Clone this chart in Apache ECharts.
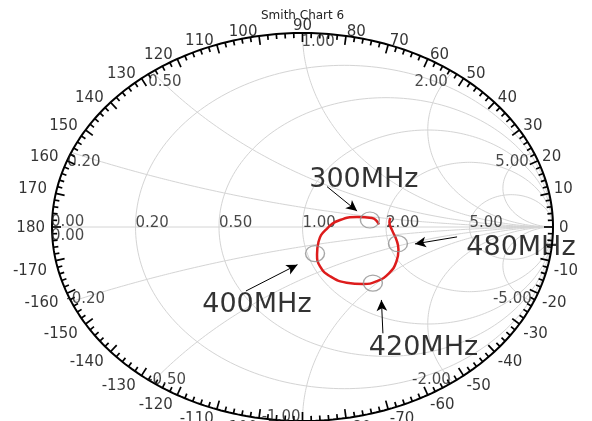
<!DOCTYPE html>
<html><head><meta charset="utf-8">
<script src="https://cdn.jsdelivr.net/npm/echarts@6/dist/echarts.min.js"></script>
<style>html,body{margin:0;padding:0;background:#fff}#c{width:592px;height:421px}</style>
</head><body><div id="c"></div>
<script>
// ---------------- data ----------------
const chartTitle = 'Smith Chart 6';
const traceRe = [0.305, 0.277, 0.218, 0.150, 0.098, 0.064, 0.058, 0.070, 0.110, 0.176, 0.242, 0.297, 0.345, 0.375, 0.383, 0.375, 0.357, 0.347, 0.351];
const traceIm = [0.013, 0.046, 0.051, 0.036, -0.008, -0.076, -0.142, -0.203, -0.254, -0.287, -0.294, -0.279, -0.239, -0.178, -0.117, -0.066, -0.015, 0.025, 0.046];
// frequency markers
const markerNames = ['300MHz', '400MHz', '420MHz', '480MHz'];
const markerRe = [0.269, 0.050, 0.281, 0.381];
const markerIm = [0.036, -0.137, -0.289, -0.086];
// annotation text centres and arrows (in reflection-coefficient plane)
const noteRe = [0.245, -0.182, 0.483, 0.872];
const noteIm = [0.241, -0.404, -0.622, -0.109];
const arrowTailRe = [0.098, -0.226, 0.321, 0.617];
const arrowTailIm = [0.208, -0.330, -0.548, -0.051];
const arrowHeadRe = [0.218, -0.020, 0.315, 0.449];
const arrowHeadIm = [0.082, -0.194, -0.376, -0.087];
// grid values and tick labels
const resistanceValues = [0.2, 0.5, 1, 2, 5];
const resistanceLabels = ['0.20', '0.50', '1.00', '2.00', '5.00'];
const reactanceValues = [0.2, 0.5, 1, 2, 5, -0.2, -0.5, -1, -2, -5];
const reactanceLabels = ['0.20', '0.50', '1.00', '2.00', '5.00', '-0.20', '-0.50', '-1.00', '-2.00', '-5.00'];
const angleLabels = [0, 10, 20, 30, 40, 50, 60, 70, 80, 90, 100, 110, 120, 130, 140, 150, 160, 170, 180,
  -10, -20, -30, -40, -50, -60, -70, -80, -90, -100, -110, -120, -130, -140, -150, -160, -170];

// ---------------- helpers ----------------
const FONT = 'DejaVu Sans';
const GRID = '#d4d4d4';
function circlePts(cx, cy, R, n) {
  const p = [];
  for (let i = 0; i <= n; i++) { const t = 2 * Math.PI * i / n; p.push([cx + R * Math.cos(t), cy + R * Math.sin(t)]); }
  return p;
}
function arcPts(x) {
  const p = [];
  for (let i = 0; i < 240; i++) {
    const s = Math.tan(i / 240 * Math.PI / 2);
    const D = (s + 1) * (s + 1) + x * x;
    p.push([(s * s - 1 + x * x) / D, 2 * x / D]);
  }
  p.push([1, 0]);
  return p;
}
function lineSeries(pts, color, width, z) {
  return { type: 'line', data: pts, showSymbol: false, symbol: 'none', silent: true, smooth: false,
    lineStyle: { color: color, width: width }, z: z, animation: false };
}

const series = [];
// resistance circles
resistanceValues.forEach(r => series.push(lineSeries(circlePts(r / (r + 1), 0, 1 / (r + 1), 240), GRID, 1, 1)));
// reactance arcs
reactanceValues.forEach(x => series.push(lineSeries(arcPts(x), GRID, 1, 1)));
// real axis
series.push(lineSeries([[-1, 0], [1, 0]], GRID, 1, 1));
// outer circle
series.push(lineSeries(circlePts(0, 0, 1, 360), '#000', 2, 5));

// ticks every 2 degrees, long every 10
const ticks = [];
for (let a = -180; a < 180; a += 2) ticks.push([a, a % 10 === 0 ? 9 : 5]);
series.push({
  type: 'custom', silent: true, z: 5, animation: false, data: ticks,
  renderItem: function (params, api) {
    const a = api.value(0) * Math.PI / 180, len = api.value(1);
    const c = api.coord([0, 0]);
    const rx = api.coord([1, 0])[0] - c[0];
    const ry = c[1] - api.coord([0, 1])[1];
    const px = c[0] + rx * Math.cos(a), py = c[1] - ry * Math.sin(a);
    let nx = -Math.cos(a) / rx, ny = Math.sin(a) / ry;
    const d = Math.hypot(nx, ny); nx /= d; ny /= d;
    return { type: 'line', shape: { x1: px, y1: py, x2: px + nx * len, y2: py + ny * len },
      style: { stroke: '#000', lineWidth: 1.7 } };
  }
});

// angle labels
const angleItems = angleLabels.map(a => {
  const r = a * Math.PI / 180; const c = Math.cos(r), s = Math.sin(r);
  let align, va, ox, oy;
  if (a === 0) { align = 'left'; va = 'middle'; ox = 6; oy = 1; }
  else if (a === 180) { align = 'right'; va = 'middle'; ox = -7; oy = 1; }
  else if (a === 90) { align = 'center'; va = 'bottom'; ox = 0; oy = 0.5; }
  else if (a === -90) { align = 'center'; va = 'top'; ox = 0; oy = 2; }
  else {
    align = c > 0 ? 'left' : 'right';
    ox = c > 0 ? 4.5 * c : 9 * c;
    if (s > 0) { va = 'bottom'; oy = 3.5; } else { va = 'top'; oy = 2.5; }
  }
  return { name: String(a), value: [c, s], label: { align: align, verticalAlign: va, offset: [ox, oy] } };
});
function labelSeries(items, fontSize, color, z) {
  return { type: 'scatter', data: items, symbol: 'circle', symbolSize: 1, silent: true, z: z, animation: false,
    itemStyle: { color: 'rgba(0,0,0,0)' },
    label: { show: true, position: 'inside', formatter: '{b}', fontFamily: FONT, fontSize: fontSize, color: color } };
}
series.push(labelSeries(angleItems, 15, '#000', 6));

// grid value labels
const valueItems = [];
resistanceValues.forEach((r, i) => valueItems.push({ name: resistanceLabels[i], value: [(r - 1) / (r + 1), 0],
  label: { align: 'left', verticalAlign: 'bottom', offset: [0, 4] } }));
valueItems.push({ name: '0.00', value: [-1, 0], label: { align: 'left', verticalAlign: 'bottom', offset: [-1, 3] } });
valueItems.push({ name: '0.00', value: [-1, 0], label: { align: 'left', verticalAlign: 'top', offset: [-1, 1.5] } });
reactanceValues.forEach((x, i) => {
  const D = 1 + x * x; const re = (x * x - 1) / D, im = 2 * x / D;
  let align, va, ox, oy;
  if (x > 0) {
    va = 'top'; oy = 2.5;
    if (Math.abs(re) < 1e-6) { align = 'left'; ox = -1; oy = 1.5; }
    else if (re < 0) { align = 'left'; ox = -4; }
    else { align = 'right'; ox = -5; }
  } else {
    va = 'bottom'; oy = 5;
    if (Math.abs(re) < 1e-6) { align = 'right'; ox = -2; oy = 4; }
    else if (re < 0) { align = 'left'; ox = -5; }
    else { align = 'right'; ox = -2; }
  }
  valueItems.push({ name: reactanceLabels[i], value: [re, im], label: { align: align, verticalAlign: va, offset: [ox, oy] } });
});
series.push(labelSeries(valueItems, 15, '#1a1a1a', 6));

// trace
series.push({ type: 'line', data: traceRe.map((v, i) => [v, traceIm[i]]), smooth: 0.5, showSymbol: false, symbol: 'none',
  silent: true, lineStyle: { color: '#dd1c1c', width: 2.5 }, z: 8, animation: false });

// markers with arrows
series.push({ type: 'scatter', data: markerRe.map((v, i) => ({ name: markerNames[i], value: [v, markerIm[i]] })),
  symbol: 'circle', symbolSize: [19, 16], silent: true, z: 9, animation: false,
  itemStyle: { color: 'rgba(0,0,0,0)', borderColor: '#909090', borderWidth: 1.3 },
  markLine: { silent: true, animation: false, symbol: ['none', 'arrow'], symbolSize: [8, 11],
    lineStyle: { color: '#000', width: 1, type: 'solid' }, label: { show: false },
    data: arrowTailRe.map((v, i) => [{ coord: [v, arrowTailIm[i]] }, { coord: [arrowHeadRe[i], arrowHeadIm[i]] }]) }
});
// annotation texts
series.push(labelSeries(markerNames.map((n, i) => ({ name: n, value: [noteRe[i], noteIm[i]],
  label: { align: 'center', verticalAlign: 'middle' } })), 27, '#000', 4));

const chart = echarts.init(document.getElementById('c'), null, { renderer: 'canvas' });
chart.setOption({
  animation: false,
  backgroundColor: '#fff',
  title: { text: chartTitle, left: 256, top: 5, textStyle: { fontFamily: FONT, fontSize: 12, fontWeight: 'normal', color: '#222' } },
  grid: { left: 52, top: 33, width: 501, height: 394, containLabel: false },
  xAxis: { type: 'value', min: -1, max: 1, show: false },
  yAxis: { type: 'value', min: -1, max: 1, show: false },
  series: series
});
</script>
</body></html>
